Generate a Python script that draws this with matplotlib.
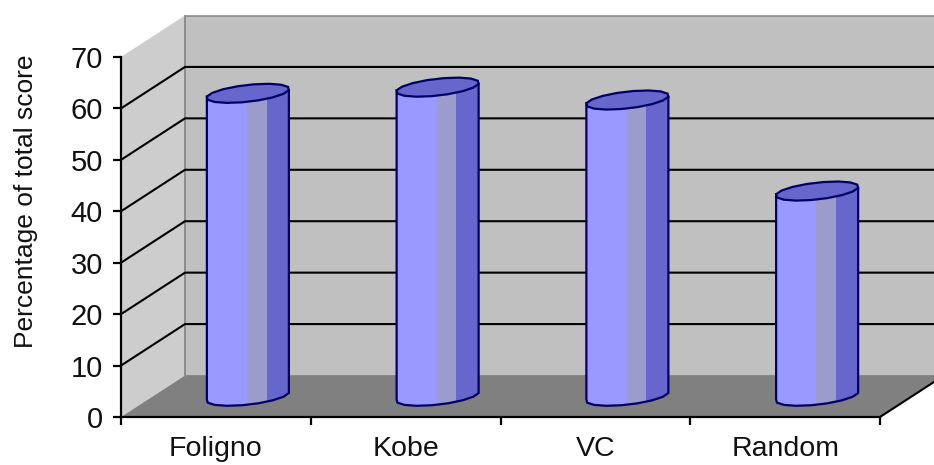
import numpy as np
import matplotlib
matplotlib.use('Agg')
import matplotlib.pyplot as plt
from matplotlib.patches import Polygon, Rectangle

plt.rcParams['font.family'] = ['Liberation Sans', 'DejaVu Sans']

categories = ['Foligno', 'Kobe', 'VC', 'Random']
scores = [58.9, 60.1, 57.6, 39.9]
y_ticks = [0, 10, 20, 30, 40, 50, 60, 70]

W, H = 934, 465
x0, x1 = 121, 880   # front plane in pixels
y0, y70 = 417, 57
fig = plt.figure(figsize=(W/100, H/100), dpi=100, facecolor='white')
ax = fig.add_axes([x0/W, 1-y0/H, (x1-x0)/W, (y0-y70)/H])
ax.set_xlim(0, 4)
ax.set_ylim(0, 70)

px = 4/(x1-x0)      # data units per pixel
py = 70/(y0-y70)
dx = 64*px          # depth of the box
dy = 41.5*py

ax.patch.set_visible(False)
for s in ['top', 'right']:
    ax.spines[s].set_visible(False)
for s in ['left', 'bottom']:
    ax.spines[s].set_linewidth(1.6)
    ax.spines[s].set_zorder(10)

# walls and floor
ax.add_patch(Polygon([(0, 0), (dx, dy), (dx, 70+dy), (0, 70)], fc='#cdcdcd', ec='none', clip_on=False, zorder=1))
ax.add_patch(Polygon([(dx, dy), (4+dx, dy), (4+dx, 70+dy), (dx, 70+dy)], fc='#c0c0c0', ec='#8c8c8c', lw=1.2, clip_on=False, zorder=1))
ax.add_patch(Polygon([(0, 0), (4, 0), (4+dx, dy), (dx, dy)], fc='#808080', ec='none', clip_on=False, zorder=2))
ax.plot([dx, dx], [dy, 70+dy], color='#8c8c8c', lw=1.2, clip_on=False, zorder=2)

# gridlines run along the side wall then the back wall
for v in y_ticks[1:-1]:
    ax.plot([0, dx, 4+dx], [v, v+dy, v+dy], color='black', lw=1.5, clip_on=False, zorder=3)
ax.plot([4, 4+dx], [0, dy], color='black', lw=1.5, clip_on=False, zorder=3)

# cylinders
t = np.linspace(0, 2*np.pi, 17)
ux, uy = 41*px, 3.2*py
vx, vy = -6*px, -9*py
for i, val in enumerate(scores):
    cx = i+0.5+dx/2
    cy = dy/2
    ex = ux*np.cos(t)+vx*np.sin(t)
    ey = uy*np.cos(t)+vy*np.sin(t)
    # front half of the bottom outline, from right point round to left point
    fx = ex[:9]
    fy = ey[:9]
    body = np.vstack([np.column_stack([cx+fx, cy+fy]),
                      [[cx-ux, cy+val-uy], [cx+ux, cy+val+uy]]])
    outline = Polygon(body, fc='#9999ff', ec='none', clip_on=False, zorder=4)
    ax.add_patch(outline)
    for a, b, c in [(-1, -0.02, '#9999ff'), (-0.02, 0.46, '#9c9ccc'), (0.46, 1.05, '#6666cc')]:
        r = Rectangle((cx+a*ux, 0), (b-a)*ux, 80, fc=c, ec='none', zorder=5)
        ax.add_patch(r)
        r.set_clip_path(outline)
    ax.add_patch(Polygon(body, fc='none', ec='#000066', lw=1.6, clip_on=False, zorder=6))
    ax.add_patch(Polygon(np.column_stack([cx+ex, cy+val+ey]), fc='#6666cc', ec='#000066', lw=1.6, clip_on=False, zorder=7))

# axes
ax.set_yticks(y_ticks)
ax.set_xticks([0, 1, 2, 3, 4])
ax.set_xticklabels([])
ax.set_xticks([0.5, 1.5, 2.5, 3.5], minor=True)
ax.set_xticklabels(categories, minor=True, fontsize=20.5, color='#111111')
ax.tick_params(axis='x', which='major', length=6, width=1.6)
ax.tick_params(axis='x', which='minor', length=0, pad=14)
ax.tick_params(axis='y', length=6, width=1.6, labelsize=21, pad=7, labelcolor='#111111')
ax.set_ylabel('Percentage of total score', fontsize=19, color='#111111')
ax.yaxis.set_label_coords(-83/(x1-x0), (y0-201)/(y0-y70))

fig.savefig('out.png', dpi=100, facecolor='white')
